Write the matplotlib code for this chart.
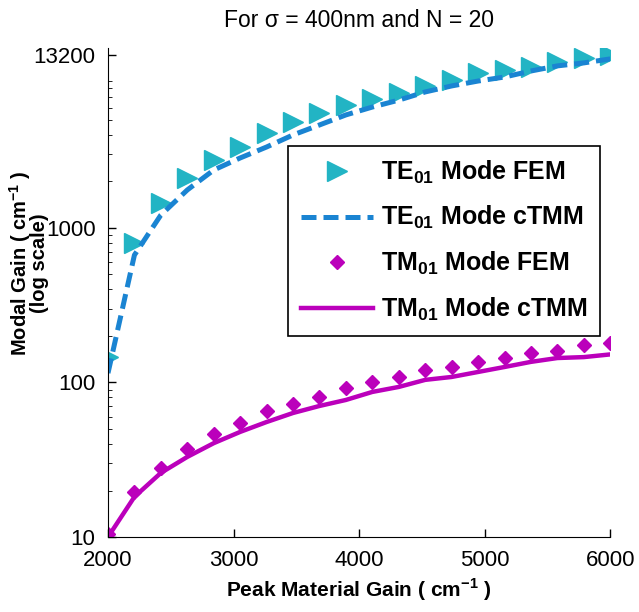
import numpy as np
import matplotlib
matplotlib.use('Agg')
import matplotlib.pyplot as plt
from matplotlib.ticker import FixedLocator, FixedFormatter, LogLocator, NullFormatter

plt.rcParams['font.family'] = ['Liberation Sans', 'DejaVu Sans']
plt.rcParams['mathtext.fontset'] = 'custom'
plt.rcParams['mathtext.rm'] = 'Liberation Sans:bold'
plt.rcParams['mathtext.bf'] = 'Liberation Sans:bold'

# peak material gain (cm^-1), 20 samples
peak_gain = np.linspace(2000, 6000, 20)

te_fem = [146, 800, 1452, 2108, 2756, 3344, 4120, 4856, 5549, 6250,
          6838, 7478, 8299, 9077, 10075, 10535, 11020, 11870, 12590, 13180]
te_ctmm = [115, 668, 1213, 1762, 2372, 2838, 3342, 4000, 4640, 5390,
           6060, 6720, 7590, 8300, 8930, 9480, 10370, 11190, 11700, 12420]
tm_fem = [10.5, 19.5, 28, 37, 46.5, 54.7, 65.4, 72.6, 80.5, 92,
          100.7, 108.6, 120.5, 126, 136, 144, 155, 160, 175, 180]
tm_ctmm = [10, 18.2, 26, 33, 40.5, 47.9, 55.5, 63.5, 70.5, 77.1,
           86.9, 93.6, 104, 108.6, 117, 126, 136, 144, 146, 152]

y_ticks = [10, 100, 1000, 13200]
x_ticks = [2000, 3000, 4000, 5000, 6000]

fig = plt.figure(figsize=(6.39, 6.12), dpi=100)
ax = fig.add_axes([0.169, 0.1225, 0.786, 0.799])

ax.plot(peak_gain, te_fem, linestyle='none', marker='>', markersize=14,
        markerfacecolor='#22b4c4', markeredgecolor='#22b4c4', label='TE$_{01}$ Mode FEM')
ax.plot(peak_gain, te_ctmm, color='#1a84d2', linewidth=3.6, dashes=(3, 1.4),
        label='TE$_{01}$ Mode cTMM')
ax.plot(peak_gain, tm_fem, linestyle='none', marker='D', markersize=7.5,
        color='#bb00bb', label='TM$_{01}$ Mode FEM')
ax.plot(peak_gain, tm_ctmm, color='#bb00bb', linewidth=3.2, label='TM$_{01}$ Mode cTMM')

ax.set_yscale('log')
ax.set_xlim(2000, 6000)
ax.set_ylim(10, 14600)
ax.xaxis.set_major_locator(FixedLocator(x_ticks))
ax.yaxis.set_major_locator(FixedLocator(y_ticks))
ax.yaxis.set_major_formatter(FixedFormatter([str(t) for t in y_ticks]))
ax.yaxis.set_minor_locator(LogLocator(base=10, subs=np.arange(2, 10)))
ax.yaxis.set_minor_formatter(NullFormatter())
ax.tick_params(direction='in', labelsize=16, length=6, width=1)
ax.tick_params(axis='x', pad=9)
ax.tick_params(axis='y', pad=9)
ax.tick_params(which='minor', direction='in', length=3)
ax.spines['top'].set_visible(False)
ax.spines['right'].set_visible(False)

ax.set_title('For σ = 400nm and N = 20', fontsize=16.5, pad=15)
ax.set_xlabel('Peak Material Gain ( cm$^{-1}$ )', fontsize=15, fontweight='bold')
ax.set_ylabel('Modal Gain ( cm$^{-1}$ )\n(log scale)', fontsize=14.5, fontweight='bold',
              linespacing=0.8)
ax.yaxis.set_label_coords(-0.118, 0.56)

leg = ax.legend(loc='upper right', bbox_to_anchor=(0.98, 0.8),
                prop={'weight': 'bold', 'size': 18}, handlelength=2.9,
                handletextpad=0.3, labelspacing=0.75, borderpad=0.5,
                borderaxespad=0, fancybox=False, framealpha=1)
leg.get_frame().set_edgecolor('black')
leg.get_frame().set_linewidth(1.2)

plt.savefig('out.png', dpi=100)
